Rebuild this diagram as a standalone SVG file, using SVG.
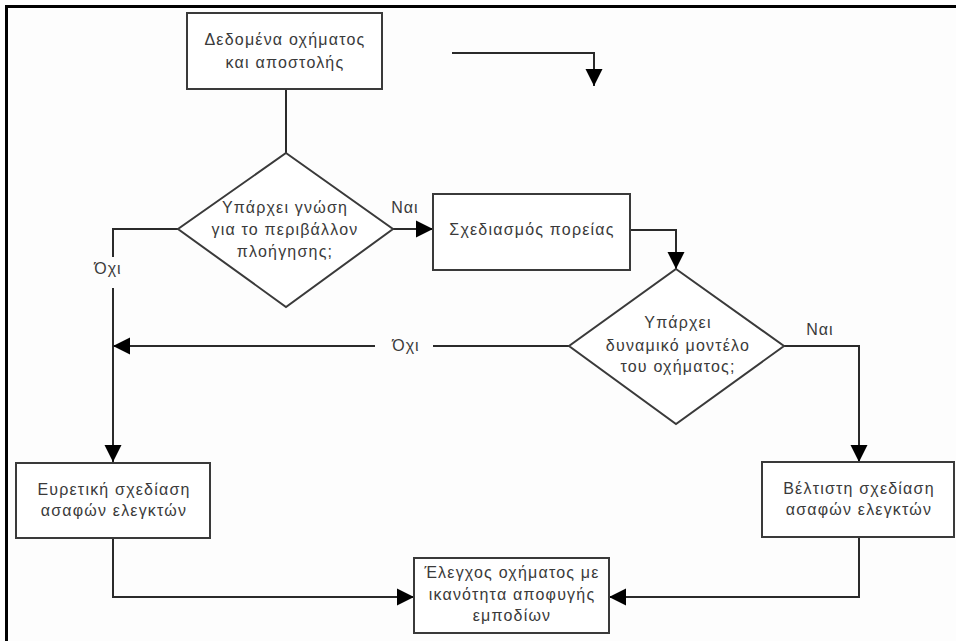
<svg xmlns="http://www.w3.org/2000/svg" width="956" height="641" viewBox="0 0 956 641">
  <defs>
    <marker id="arrow" viewBox="0 0 10 10" refX="10" refY="5" markerWidth="17" markerHeight="18" markerUnits="userSpaceOnUse" orient="auto">
      <path d="M0,0 L10,5 L0,10 z" fill="#000"/>
    </marker>
    <style>
      .box { fill: #fff; stroke: #3a3a3a; stroke-width: 2; }
      .txt { font-family: "Liberation Sans", Arial, sans-serif; font-size: 16px; letter-spacing: 1.2px; fill: #3a3a3a; text-anchor: middle; }
      .lbl { font-family: "Liberation Sans", Arial, sans-serif; font-size: 16px; letter-spacing: 1px; fill: #3a3a3a; text-anchor: middle; }
      .wire { fill: none; stroke: #2a2a2a; stroke-width: 2; }
      .arr { marker-end: url(#arrow); }
      .frame { stroke: #000; stroke-width: 3; fill: none; }
    </style>
  </defs>

  <rect width="956" height="641" fill="#fdfdfd"/>
  <path class="frame" d="M6.5,641 V6.5 H956"/>

  <g id="connectors">
    <path class="wire" d="M286,89 V153"/>
    <path class="wire arr" d="M393,229 H433"/>
    <path class="wire" d="M178,229 H113 V257"/>
    <path class="wire arr" d="M113,288 V462"/>
    <path class="wire arr" d="M630,230 H676 V269"/>
    <path class="wire" d="M569,346 H433"/>
    <path class="wire arr" d="M375,346 H113"/>
    <path class="wire arr" d="M784,346 H859 V462"/>
    <path class="wire arr" d="M113,538 V597 H414"/>
    <path class="wire arr" d="M859,537 V597 H609"/>
    <path class="wire arr" d="M452,53 H594 V86"/>
    <text class="lbl" x="405" y="213">Ναι</text>
    <text class="lbl" x="108" y="274">Όχι</text>
    <text class="lbl" x="406" y="351">Όχι</text>
    <text class="lbl" x="820" y="335">Ναι</text>
  </g>

  <g id="start">
    <rect class="box" x="187" y="13" width="195" height="76"/>
    <text class="txt" x="285" y="45">Δεδομένα οχήματος</text>
    <text class="txt" x="285" y="68">και αποστολής</text>
  </g>

  <g id="decision-environment">
    <polygon class="box" points="286,153 393,229 286,307 178,229"/>
    <text class="txt" x="285" y="213">Υπάρχει γνώση</text>
    <text class="txt" x="285" y="235">για το περιβάλλον</text>
    <text class="txt" x="285" y="257">πλοήγησης;</text>
  </g>

  <g id="path-planning">
    <rect class="box" x="433" y="194" width="197" height="76"/>
    <text class="txt" x="532" y="235">Σχεδιασμός πορείας</text>
  </g>

  <g id="decision-model">
    <polygon class="box" points="676,269 784,346 676,424 569,346"/>
    <text class="txt" x="678" y="328">Υπάρχει</text>
    <text class="txt" x="678" y="351">δυναμικό μοντέλο</text>
    <text class="txt" x="678" y="372">του οχήματος;</text>
  </g>

  <g id="heuristic-design">
    <rect class="box" x="16" y="463" width="194" height="75"/>
    <text class="txt" x="114" y="495">Ευρετική σχεδίαση</text>
    <text class="txt" x="114" y="516">ασαφών ελεγκτών</text>
  </g>

  <g id="optimal-design">
    <rect class="box" x="762" y="462" width="192" height="75"/>
    <text class="txt" x="859" y="494">Βέλτιστη σχεδίαση</text>
    <text class="txt" x="859" y="515">ασαφών ελεγκτών</text>
  </g>

  <g id="vehicle-control">
    <rect class="box" x="414" y="558" width="195" height="75"/>
    <text class="txt" x="512" y="578">Έλεγχος οχήματος με</text>
    <text class="txt" x="512" y="600">ικανότητα αποφυγής</text>
    <text class="txt" x="512" y="621">εμποδίων</text>
  </g>
</svg>
